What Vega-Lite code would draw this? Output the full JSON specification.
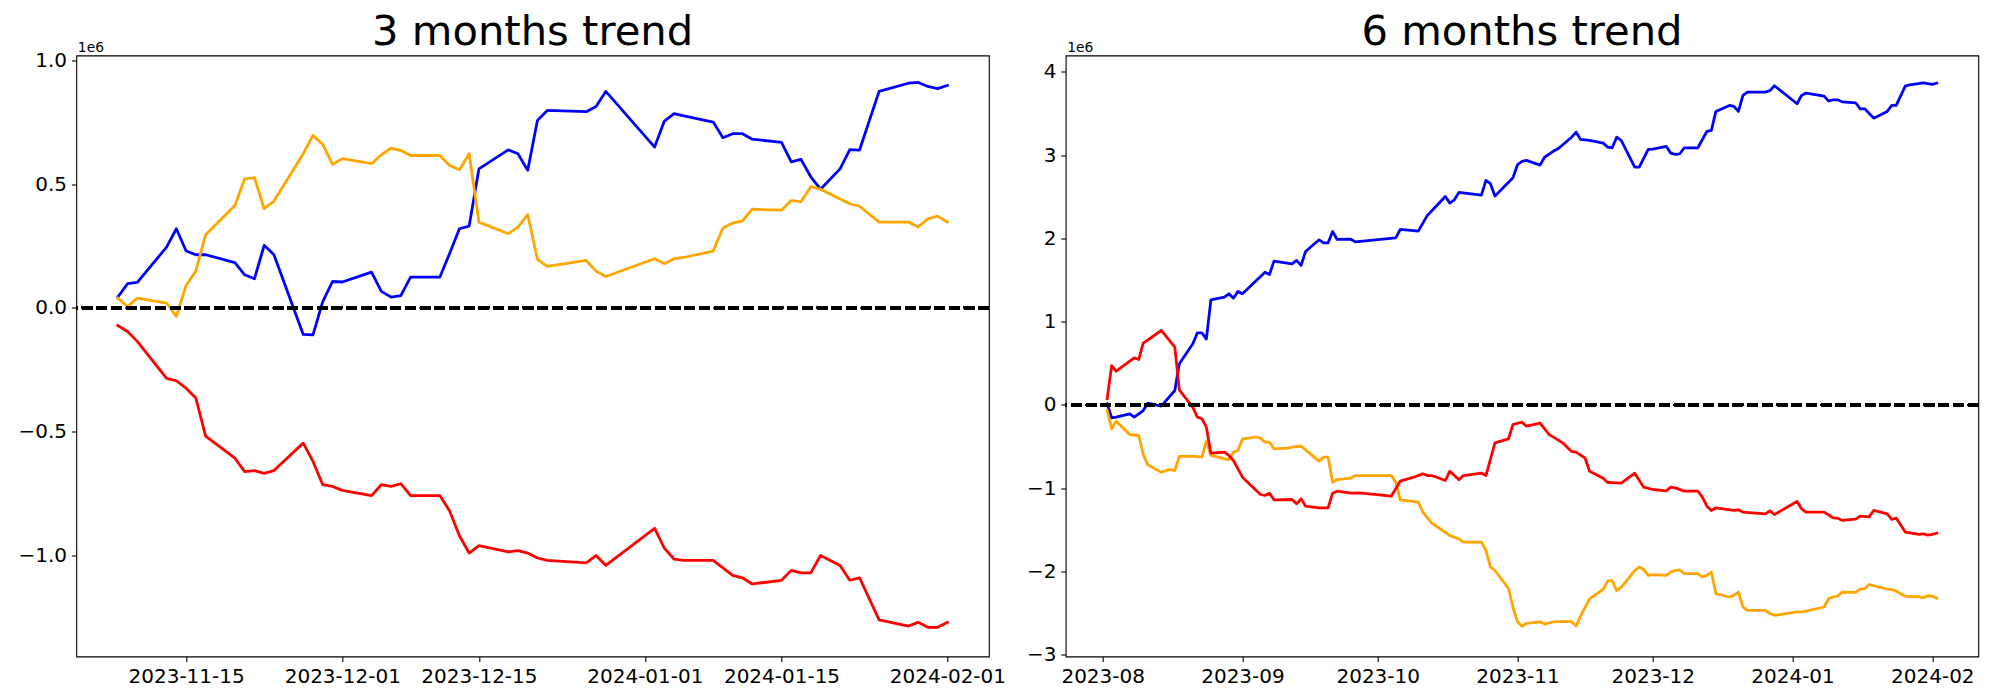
{
  "$schema": "https://vega.github.io/schema/vega-lite/v6.json",
  "background": "white",
  "padding": {"left": 17.3, "top": 11.5, "right": 5, "bottom": 5},
  "spacing": 76.4,
  "bounds": "flush",
  "datasets": {
    "three_months": [
      {"date":"2023-11-08","series":"s1","value":44000},{"date":"2023-11-09","series":"s1","value":98000},{"date":"2023-11-10","series":"s1","value":103000},{"date":"2023-11-13","series":"s1","value":246000},{"date":"2023-11-14","series":"s1","value":320000},{"date":"2023-11-15","series":"s1","value":230000},{"date":"2023-11-16","series":"s1","value":215000},{"date":"2023-11-17","series":"s1","value":215000},{"date":"2023-11-20","series":"s1","value":183000},{"date":"2023-11-21","series":"s1","value":134000},{"date":"2023-11-22","series":"s1","value":118000},{"date":"2023-11-23","series":"s1","value":253000},{"date":"2023-11-24","series":"s1","value":215000},{"date":"2023-11-27","series":"s1","value":-107000},{"date":"2023-11-28","series":"s1","value":-109000},{"date":"2023-11-29","series":"s1","value":26000},{"date":"2023-11-30","series":"s1","value":107000},{"date":"2023-12-01","series":"s1","value":105000},{"date":"2023-12-04","series":"s1","value":145000},{"date":"2023-12-05","series":"s1","value":67000},{"date":"2023-12-06","series":"s1","value":44000},{"date":"2023-12-07","series":"s1","value":50000},{"date":"2023-12-08","series":"s1","value":125000},{"date":"2023-12-11","series":"s1","value":125000},{"date":"2023-12-12","series":"s1","value":220000},{"date":"2023-12-13","series":"s1","value":320000},{"date":"2023-12-14","series":"s1","value":331000},{"date":"2023-12-15","series":"s1","value":562000},{"date":"2023-12-18","series":"s1","value":639000},{"date":"2023-12-19","series":"s1","value":623000},{"date":"2023-12-20","series":"s1","value":556000},{"date":"2023-12-21","series":"s1","value":758000},{"date":"2023-12-22","series":"s1","value":798000},{"date":"2023-12-26","series":"s1","value":793000},{"date":"2023-12-27","series":"s1","value":814000},{"date":"2023-12-28","series":"s1","value":875000},{"date":"2024-01-02","series":"s1","value":650000},{"date":"2024-01-03","series":"s1","value":755000},{"date":"2024-01-04","series":"s1","value":785000},{"date":"2024-01-05","series":"s1","value":776000},{"date":"2024-01-08","series":"s1","value":751000},{"date":"2024-01-09","series":"s1","value":688000},{"date":"2024-01-10","series":"s1","value":704000},{"date":"2024-01-11","series":"s1","value":704000},{"date":"2024-01-12","series":"s1","value":682000},{"date":"2024-01-15","series":"s1","value":669000},{"date":"2024-01-16","series":"s1","value":590000},{"date":"2024-01-17","series":"s1","value":600000},{"date":"2024-01-18","series":"s1","value":530000},{"date":"2024-01-19","series":"s1","value":480000},{"date":"2024-01-21","series":"s1","value":562000},{"date":"2024-01-22","series":"s1","value":640000},{"date":"2024-01-23","series":"s1","value":638000},{"date":"2024-01-25","series":"s1","value":875000},{"date":"2024-01-28","series":"s1","value":908000},{"date":"2024-01-29","series":"s1","value":911000},{"date":"2024-01-30","series":"s1","value":895000},{"date":"2024-01-31","series":"s1","value":886000},{"date":"2024-02-01","series":"s1","value":899000},
      {"date":"2023-11-08","series":"s2","value":40000},{"date":"2023-11-09","series":"s2","value":6000},{"date":"2023-11-10","series":"s2","value":40000},{"date":"2023-11-13","series":"s2","value":20000},{"date":"2023-11-14","series":"s2","value":-34000},{"date":"2023-11-15","series":"s2","value":91000},{"date":"2023-11-16","series":"s2","value":149000},{"date":"2023-11-17","series":"s2","value":296000},{"date":"2023-11-20","series":"s2","value":414000},{"date":"2023-11-21","series":"s2","value":522000},{"date":"2023-11-22","series":"s2","value":527000},{"date":"2023-11-23","series":"s2","value":401000},{"date":"2023-11-24","series":"s2","value":432000},{"date":"2023-11-27","series":"s2","value":623000},{"date":"2023-11-28","series":"s2","value":697000},{"date":"2023-11-29","series":"s2","value":661000},{"date":"2023-11-30","series":"s2","value":580000},{"date":"2023-12-01","series":"s2","value":603000},{"date":"2023-12-04","series":"s2","value":583000},{"date":"2023-12-05","series":"s2","value":619000},{"date":"2023-12-06","series":"s2","value":646000},{"date":"2023-12-07","series":"s2","value":636000},{"date":"2023-12-08","series":"s2","value":616000},{"date":"2023-12-11","series":"s2","value":616000},{"date":"2023-12-12","series":"s2","value":576000},{"date":"2023-12-13","series":"s2","value":558000},{"date":"2023-12-14","series":"s2","value":623000},{"date":"2023-12-15","series":"s2","value":347000},{"date":"2023-12-18","series":"s2","value":300000},{"date":"2023-12-19","series":"s2","value":327000},{"date":"2023-12-20","series":"s2","value":377000},{"date":"2023-12-21","series":"s2","value":196000},{"date":"2023-12-22","series":"s2","value":168000},{"date":"2023-12-26","series":"s2","value":192000},{"date":"2023-12-27","series":"s2","value":149000},{"date":"2023-12-28","series":"s2","value":127000},{"date":"2024-01-02","series":"s2","value":199000},{"date":"2024-01-03","series":"s2","value":179000},{"date":"2024-01-04","series":"s2","value":199000},{"date":"2024-01-05","series":"s2","value":204000},{"date":"2024-01-08","series":"s2","value":230000},{"date":"2024-01-09","series":"s2","value":323000},{"date":"2024-01-10","series":"s2","value":343000},{"date":"2024-01-11","series":"s2","value":352000},{"date":"2024-01-12","series":"s2","value":399000},{"date":"2024-01-15","series":"s2","value":395000},{"date":"2024-01-16","series":"s2","value":434000},{"date":"2024-01-17","series":"s2","value":430000},{"date":"2024-01-18","series":"s2","value":490000},{"date":"2024-01-19","series":"s2","value":480000},{"date":"2024-01-21","series":"s2","value":440000},{"date":"2024-01-22","series":"s2","value":421000},{"date":"2024-01-23","series":"s2","value":411000},{"date":"2024-01-25","series":"s2","value":347000},{"date":"2024-01-28","series":"s2","value":347000},{"date":"2024-01-29","series":"s2","value":327000},{"date":"2024-01-30","series":"s2","value":360000},{"date":"2024-01-31","series":"s2","value":371000},{"date":"2024-02-01","series":"s2","value":347000},
      {"date":"2023-11-08","series":"s3","value":-71000},{"date":"2023-11-09","series":"s3","value":-95000},{"date":"2023-11-10","series":"s3","value":-135000},{"date":"2023-11-13","series":"s3","value":-284000},{"date":"2023-11-14","series":"s3","value":-294000},{"date":"2023-11-15","series":"s3","value":-324000},{"date":"2023-11-16","series":"s3","value":-364000},{"date":"2023-11-17","series":"s3","value":-518000},{"date":"2023-11-20","series":"s3","value":-607000},{"date":"2023-11-21","series":"s3","value":-661000},{"date":"2023-11-22","series":"s3","value":-657000},{"date":"2023-11-23","series":"s3","value":-668000},{"date":"2023-11-24","series":"s3","value":-657000},{"date":"2023-11-27","series":"s3","value":-546000},{"date":"2023-11-28","series":"s3","value":-620000},{"date":"2023-11-29","series":"s3","value":-714000},{"date":"2023-11-30","series":"s3","value":-721000},{"date":"2023-12-01","series":"s3","value":-737000},{"date":"2023-12-04","series":"s3","value":-758000},{"date":"2023-12-05","series":"s3","value":-714000},{"date":"2023-12-06","series":"s3","value":-721000},{"date":"2023-12-07","series":"s3","value":-710000},{"date":"2023-12-08","series":"s3","value":-758000},{"date":"2023-12-11","series":"s3","value":-758000},{"date":"2023-12-12","series":"s3","value":-820000},{"date":"2023-12-13","series":"s3","value":-920000},{"date":"2023-12-14","series":"s3","value":-990000},{"date":"2023-12-15","series":"s3","value":-960000},{"date":"2023-12-18","series":"s3","value":-985000},{"date":"2023-12-19","series":"s3","value":-980000},{"date":"2023-12-20","series":"s3","value":-990000},{"date":"2023-12-21","series":"s3","value":-1010000},{"date":"2023-12-22","series":"s3","value":-1020000},{"date":"2023-12-26","series":"s3","value":-1030000},{"date":"2023-12-27","series":"s3","value":-1000000},{"date":"2023-12-28","series":"s3","value":-1040000},{"date":"2024-01-02","series":"s3","value":-890000},{"date":"2024-01-03","series":"s3","value":-970000},{"date":"2024-01-04","series":"s3","value":-1015000},{"date":"2024-01-05","series":"s3","value":-1020000},{"date":"2024-01-08","series":"s3","value":-1020000},{"date":"2024-01-09","series":"s3","value":-1050000},{"date":"2024-01-10","series":"s3","value":-1080000},{"date":"2024-01-11","series":"s3","value":-1090000},{"date":"2024-01-12","series":"s3","value":-1115000},{"date":"2024-01-15","series":"s3","value":-1100000},{"date":"2024-01-16","series":"s3","value":-1060000},{"date":"2024-01-17","series":"s3","value":-1070000},{"date":"2024-01-18","series":"s3","value":-1070000},{"date":"2024-01-19","series":"s3","value":-1000000},{"date":"2024-01-21","series":"s3","value":-1040000},{"date":"2024-01-22","series":"s3","value":-1100000},{"date":"2024-01-23","series":"s3","value":-1090000},{"date":"2024-01-25","series":"s3","value":-1260000},{"date":"2024-01-28","series":"s3","value":-1285000},{"date":"2024-01-29","series":"s3","value":-1270000},{"date":"2024-01-30","series":"s3","value":-1290000},{"date":"2024-01-31","series":"s3","value":-1290000},{"date":"2024-02-01","series":"s3","value":-1270000}
    ],
    "six_months": [
      {"date":"2023-08-02","series":"s1","value":12000},{"date":"2023-08-03","series":"s1","value":-157000},{"date":"2023-08-04","series":"s1","value":-149000},{"date":"2023-08-07","series":"s1","value":-108000},{"date":"2023-08-08","series":"s1","value":-149000},{"date":"2023-08-10","series":"s1","value":-69000},{"date":"2023-08-11","series":"s1","value":20000},{"date":"2023-08-14","series":"s1","value":-16000},{"date":"2023-08-17","series":"s1","value":172000},{"date":"2023-08-18","series":"s1","value":493000},{"date":"2023-08-21","series":"s1","value":733000},{"date":"2023-08-22","series":"s1","value":865000},{"date":"2023-08-23","series":"s1","value":865000},{"date":"2023-08-24","series":"s1","value":790000},{"date":"2023-08-25","series":"s1","value":1262000},{"date":"2023-08-28","series":"s1","value":1294000},{"date":"2023-08-29","series":"s1","value":1334000},{"date":"2023-08-30","series":"s1","value":1282000},{"date":"2023-08-31","series":"s1","value":1362000},{"date":"2023-09-01","series":"s1","value":1334000},{"date":"2023-09-06","series":"s1","value":1594000},{"date":"2023-09-07","series":"s1","value":1566000},{"date":"2023-09-08","series":"s1","value":1727000},{"date":"2023-09-12","series":"s1","value":1695000},{"date":"2023-09-13","series":"s1","value":1735000},{"date":"2023-09-14","series":"s1","value":1675000},{"date":"2023-09-15","series":"s1","value":1843000},{"date":"2023-09-18","series":"s1","value":1983000},{"date":"2023-09-19","series":"s1","value":1947000},{"date":"2023-09-20","series":"s1","value":1947000},{"date":"2023-09-21","series":"s1","value":2083000},{"date":"2023-09-22","series":"s1","value":1987000},{"date":"2023-09-25","series":"s1","value":1991000},{"date":"2023-09-26","series":"s1","value":1959000},{"date":"2023-10-05","series":"s1","value":2007000},{"date":"2023-10-06","series":"s1","value":2107000},{"date":"2023-10-10","series":"s1","value":2087000},{"date":"2023-10-12","series":"s1","value":2276000},{"date":"2023-10-16","series":"s1","value":2504000},{"date":"2023-10-17","series":"s1","value":2424000},{"date":"2023-10-18","series":"s1","value":2464000},{"date":"2023-10-19","series":"s1","value":2552000},{"date":"2023-10-24","series":"s1","value":2520000},{"date":"2023-10-25","series":"s1","value":2697000},{"date":"2023-10-26","series":"s1","value":2657000},{"date":"2023-10-27","series":"s1","value":2508000},{"date":"2023-10-31","series":"s1","value":2729000},{"date":"2023-11-01","series":"s1","value":2885000},{"date":"2023-11-02","series":"s1","value":2925000},{"date":"2023-11-03","series":"s1","value":2937000},{"date":"2023-11-06","series":"s1","value":2880000},{"date":"2023-11-07","series":"s1","value":2975000},{"date":"2023-11-09","series":"s1","value":3050000},{"date":"2023-11-10","series":"s1","value":3077000},{"date":"2023-11-13","series":"s1","value":3216000},{"date":"2023-11-14","series":"s1","value":3277000},{"date":"2023-11-15","series":"s1","value":3189000},{"date":"2023-11-17","series":"s1","value":3177000},{"date":"2023-11-20","series":"s1","value":3145000},{"date":"2023-11-21","series":"s1","value":3097000},{"date":"2023-11-22","series":"s1","value":3089000},{"date":"2023-11-23","series":"s1","value":3216000},{"date":"2023-11-24","series":"s1","value":3177000},{"date":"2023-11-27","series":"s1","value":2856000},{"date":"2023-11-28","series":"s1","value":2856000},{"date":"2023-11-30","series":"s1","value":3069000},{"date":"2023-12-01","series":"s1","value":3073000},{"date":"2023-12-04","series":"s1","value":3105000},{"date":"2023-12-05","series":"s1","value":3025000},{"date":"2023-12-06","series":"s1","value":3009000},{"date":"2023-12-07","series":"s1","value":3017000},{"date":"2023-12-08","series":"s1","value":3089000},{"date":"2023-12-11","series":"s1","value":3089000},{"date":"2023-12-13","series":"s1","value":3285000},{"date":"2023-12-14","series":"s1","value":3297000},{"date":"2023-12-15","series":"s1","value":3526000},{"date":"2023-12-18","series":"s1","value":3598000},{"date":"2023-12-19","series":"s1","value":3586000},{"date":"2023-12-20","series":"s1","value":3526000},{"date":"2023-12-21","series":"s1","value":3718000},{"date":"2023-12-22","series":"s1","value":3758000},{"date":"2023-12-26","series":"s1","value":3758000},{"date":"2023-12-27","series":"s1","value":3778000},{"date":"2023-12-28","series":"s1","value":3834000},{"date":"2024-01-02","series":"s1","value":3618000},{"date":"2024-01-03","series":"s1","value":3718000},{"date":"2024-01-04","series":"s1","value":3746000},{"date":"2024-01-08","series":"s1","value":3710000},{"date":"2024-01-09","series":"s1","value":3650000},{"date":"2024-01-10","series":"s1","value":3666000},{"date":"2024-01-11","series":"s1","value":3666000},{"date":"2024-01-12","series":"s1","value":3642000},{"date":"2024-01-15","series":"s1","value":3630000},{"date":"2024-01-16","series":"s1","value":3557000},{"date":"2024-01-17","series":"s1","value":3557000},{"date":"2024-01-19","series":"s1","value":3445000},{"date":"2024-01-22","series":"s1","value":3526000},{"date":"2024-01-23","series":"s1","value":3598000},{"date":"2024-01-24","series":"s1","value":3598000},{"date":"2024-01-26","series":"s1","value":3830000},{"date":"2024-01-27","series":"s1","value":3846000},{"date":"2024-01-30","series":"s1","value":3870000},{"date":"2024-02-01","series":"s1","value":3850000},{"date":"2024-02-02","series":"s1","value":3866000},
      {"date":"2023-08-02","series":"s2","value":-69000},{"date":"2023-08-03","series":"s2","value":-289000},{"date":"2023-08-04","series":"s2","value":-197000},{"date":"2023-08-07","series":"s2","value":-357000},{"date":"2023-08-09","series":"s2","value":-369000},{"date":"2023-08-10","series":"s2","value":-597000},{"date":"2023-08-11","series":"s2","value":-722000},{"date":"2023-08-14","series":"s2","value":-810000},{"date":"2023-08-16","series":"s2","value":-778000},{"date":"2023-08-17","series":"s2","value":-790000},{"date":"2023-08-18","series":"s2","value":-621000},{"date":"2023-08-21","series":"s2","value":-617000},{"date":"2023-08-23","series":"s2","value":-629000},{"date":"2023-08-24","series":"s2","value":-437000},{"date":"2023-08-25","series":"s2","value":-609000},{"date":"2023-08-29","series":"s2","value":-661000},{"date":"2023-08-30","series":"s2","value":-569000},{"date":"2023-08-31","series":"s2","value":-549000},{"date":"2023-09-01","series":"s2","value":-410000},{"date":"2023-09-04","series":"s2","value":-389000},{"date":"2023-09-05","series":"s2","value":-401000},{"date":"2023-09-06","series":"s2","value":-449000},{"date":"2023-09-07","series":"s2","value":-449000},{"date":"2023-09-08","series":"s2","value":-529000},{"date":"2023-09-11","series":"s2","value":-521000},{"date":"2023-09-13","series":"s2","value":-501000},{"date":"2023-09-14","series":"s2","value":-497000},{"date":"2023-09-18","series":"s2","value":-677000},{"date":"2023-09-19","series":"s2","value":-629000},{"date":"2023-09-20","series":"s2","value":-629000},{"date":"2023-09-21","series":"s2","value":-930000},{"date":"2023-09-22","series":"s2","value":-898000},{"date":"2023-09-25","series":"s2","value":-882000},{"date":"2023-09-26","series":"s2","value":-850000},{"date":"2023-10-04","series":"s2","value":-850000},{"date":"2023-10-05","series":"s2","value":-930000},{"date":"2023-10-06","series":"s2","value":-1142000},{"date":"2023-10-10","series":"s2","value":-1170000},{"date":"2023-10-11","series":"s2","value":-1290000},{"date":"2023-10-13","series":"s2","value":-1422000},{"date":"2023-10-17","series":"s2","value":-1571000},{"date":"2023-10-19","series":"s2","value":-1611000},{"date":"2023-10-20","series":"s2","value":-1651000},{"date":"2023-10-24","series":"s2","value":-1651000},{"date":"2023-10-25","series":"s2","value":-1750000},{"date":"2023-10-26","series":"s2","value":-1948000},{"date":"2023-10-27","series":"s2","value":-1991000},{"date":"2023-10-30","series":"s2","value":-2207000},{"date":"2023-10-31","series":"s2","value":-2436000},{"date":"2023-11-01","series":"s2","value":-2607000},{"date":"2023-11-02","series":"s2","value":-2661000},{"date":"2023-11-03","series":"s2","value":-2626000},{"date":"2023-11-06","series":"s2","value":-2608000},{"date":"2023-11-07","series":"s2","value":-2635000},{"date":"2023-11-09","series":"s2","value":-2610000},{"date":"2023-11-10","series":"s2","value":-2607000},{"date":"2023-11-13","series":"s2","value":-2606000},{"date":"2023-11-14","series":"s2","value":-2660000},{"date":"2023-11-15","series":"s2","value":-2537000},{"date":"2023-11-17","series":"s2","value":-2333000},{"date":"2023-11-20","series":"s2","value":-2219000},{"date":"2023-11-21","series":"s2","value":-2119000},{"date":"2023-11-22","series":"s2","value":-2112000},{"date":"2023-11-23","series":"s2","value":-2235000},{"date":"2023-11-24","series":"s2","value":-2193000},{"date":"2023-11-27","series":"s2","value":-1994000},{"date":"2023-11-28","series":"s2","value":-1950000},{"date":"2023-11-29","series":"s2","value":-1980000},{"date":"2023-11-30","series":"s2","value":-2050000},{"date":"2023-12-01","series":"s2","value":-2040000},{"date":"2023-12-04","series":"s2","value":-2050000},{"date":"2023-12-05","series":"s2","value":-2010000},{"date":"2023-12-06","series":"s2","value":-1990000},{"date":"2023-12-07","series":"s2","value":-1985000},{"date":"2023-12-08","series":"s2","value":-2030000},{"date":"2023-12-11","series":"s2","value":-2030000},{"date":"2023-12-12","series":"s2","value":-2070000},{"date":"2023-12-13","series":"s2","value":-2050000},{"date":"2023-12-14","series":"s2","value":-2010000},{"date":"2023-12-15","series":"s2","value":-2270000},{"date":"2023-12-18","series":"s2","value":-2310000},{"date":"2023-12-19","series":"s2","value":-2290000},{"date":"2023-12-20","series":"s2","value":-2250000},{"date":"2023-12-21","series":"s2","value":-2430000},{"date":"2023-12-22","series":"s2","value":-2470000},{"date":"2023-12-26","series":"s2","value":-2470000},{"date":"2023-12-27","series":"s2","value":-2510000},{"date":"2023-12-28","series":"s2","value":-2530000},{"date":"2024-01-02","series":"s2","value":-2490000},{"date":"2024-01-03","series":"s2","value":-2490000},{"date":"2024-01-04","series":"s2","value":-2480000},{"date":"2024-01-08","series":"s2","value":-2430000},{"date":"2024-01-09","series":"s2","value":-2330000},{"date":"2024-01-10","series":"s2","value":-2310000},{"date":"2024-01-11","series":"s2","value":-2300000},{"date":"2024-01-12","series":"s2","value":-2250000},{"date":"2024-01-15","series":"s2","value":-2255000},{"date":"2024-01-16","series":"s2","value":-2215000},{"date":"2024-01-17","series":"s2","value":-2210000},{"date":"2024-01-18","series":"s2","value":-2160000},{"date":"2024-01-19","series":"s2","value":-2175000},{"date":"2024-01-22","series":"s2","value":-2215000},{"date":"2024-01-23","series":"s2","value":-2220000},{"date":"2024-01-24","series":"s2","value":-2240000},{"date":"2024-01-26","series":"s2","value":-2300000},{"date":"2024-01-27","series":"s2","value":-2305000},{"date":"2024-01-29","series":"s2","value":-2305000},{"date":"2024-01-30","series":"s2","value":-2320000},{"date":"2024-01-31","series":"s2","value":-2295000},{"date":"2024-02-01","series":"s2","value":-2300000},{"date":"2024-02-02","series":"s2","value":-2325000},
      {"date":"2023-08-02","series":"s3","value":72000},{"date":"2023-08-03","series":"s3","value":472000},{"date":"2023-08-04","series":"s3","value":404000},{"date":"2023-08-08","series":"s3","value":565000},{"date":"2023-08-09","series":"s3","value":545000},{"date":"2023-08-10","series":"s3","value":741000},{"date":"2023-08-14","series":"s3","value":893000},{"date":"2023-08-17","series":"s3","value":693000},{"date":"2023-08-18","series":"s3","value":180000},{"date":"2023-08-21","series":"s3","value":-30000},{"date":"2023-08-22","series":"s3","value":-148000},{"date":"2023-08-23","series":"s3","value":-168000},{"date":"2023-08-24","series":"s3","value":-269000},{"date":"2023-08-25","series":"s3","value":-582000},{"date":"2023-08-28","series":"s3","value":-569000},{"date":"2023-08-29","series":"s3","value":-609000},{"date":"2023-08-30","series":"s3","value":-669000},{"date":"2023-09-01","series":"s3","value":-870000},{"date":"2023-09-05","series":"s3","value":-1078000},{"date":"2023-09-06","series":"s3","value":-1090000},{"date":"2023-09-07","series":"s3","value":-1062000},{"date":"2023-09-08","series":"s3","value":-1142000},{"date":"2023-09-12","series":"s3","value":-1138000},{"date":"2023-09-13","series":"s3","value":-1190000},{"date":"2023-09-14","series":"s3","value":-1130000},{"date":"2023-09-15","series":"s3","value":-1218000},{"date":"2023-09-18","series":"s3","value":-1238000},{"date":"2023-09-20","series":"s3","value":-1238000},{"date":"2023-09-21","series":"s3","value":-1062000},{"date":"2023-09-22","series":"s3","value":-1038000},{"date":"2023-09-25","series":"s3","value":-1062000},{"date":"2023-09-27","series":"s3","value":-1058000},{"date":"2023-10-04","series":"s3","value":-1098000},{"date":"2023-10-06","series":"s3","value":-918000},{"date":"2023-10-09","series":"s3","value":-870000},{"date":"2023-10-11","series":"s3","value":-830000},{"date":"2023-10-12","series":"s3","value":-850000},{"date":"2023-10-13","series":"s3","value":-850000},{"date":"2023-10-16","series":"s3","value":-910000},{"date":"2023-10-17","series":"s3","value":-798000},{"date":"2023-10-19","series":"s3","value":-902000},{"date":"2023-10-20","series":"s3","value":-850000},{"date":"2023-10-24","series":"s3","value":-822000},{"date":"2023-10-25","series":"s3","value":-850000},{"date":"2023-10-27","series":"s3","value":-458000},{"date":"2023-10-30","series":"s3","value":-410000},{"date":"2023-10-31","series":"s3","value":-237000},{"date":"2023-11-02","series":"s3","value":-209000},{"date":"2023-11-03","series":"s3","value":-257000},{"date":"2023-11-06","series":"s3","value":-219000},{"date":"2023-11-08","series":"s3","value":-357000},{"date":"2023-11-09","series":"s3","value":-389000},{"date":"2023-11-11","series":"s3","value":-457000},{"date":"2023-11-13","series":"s3","value":-561000},{"date":"2023-11-14","series":"s3","value":-569000},{"date":"2023-11-16","series":"s3","value":-642000},{"date":"2023-11-17","series":"s3","value":-798000},{"date":"2023-11-20","series":"s3","value":-882000},{"date":"2023-11-21","series":"s3","value":-934000},{"date":"2023-11-22","series":"s3","value":-934000},{"date":"2023-11-24","series":"s3","value":-942000},{"date":"2023-11-27","series":"s3","value":-822000},{"date":"2023-11-29","series":"s3","value":-990000},{"date":"2023-12-01","series":"s3","value":-1018000},{"date":"2023-12-04","series":"s3","value":-1034000},{"date":"2023-12-05","series":"s3","value":-990000},{"date":"2023-12-06","series":"s3","value":-998000},{"date":"2023-12-08","series":"s3","value":-1038000},{"date":"2023-12-11","series":"s3","value":-1038000},{"date":"2023-12-12","series":"s3","value":-1110000},{"date":"2023-12-13","series":"s3","value":-1218000},{"date":"2023-12-14","series":"s3","value":-1270000},{"date":"2023-12-15","series":"s3","value":-1238000},{"date":"2023-12-19","series":"s3","value":-1270000},{"date":"2023-12-20","series":"s3","value":-1262000},{"date":"2023-12-21","series":"s3","value":-1290000},{"date":"2023-12-26","series":"s3","value":-1310000},{"date":"2023-12-27","series":"s3","value":-1274000},{"date":"2023-12-28","series":"s3","value":-1318000},{"date":"2024-01-02","series":"s3","value":-1162000},{"date":"2024-01-03","series":"s3","value":-1250000},{"date":"2024-01-04","series":"s3","value":-1290000},{"date":"2024-01-08","series":"s3","value":-1290000},{"date":"2024-01-10","series":"s3","value":-1358000},{"date":"2024-01-11","series":"s3","value":-1362000},{"date":"2024-01-12","series":"s3","value":-1390000},{"date":"2024-01-15","series":"s3","value":-1374000},{"date":"2024-01-16","series":"s3","value":-1338000},{"date":"2024-01-18","series":"s3","value":-1346000},{"date":"2024-01-19","series":"s3","value":-1270000},{"date":"2024-01-22","series":"s3","value":-1310000},{"date":"2024-01-23","series":"s3","value":-1378000},{"date":"2024-01-24","series":"s3","value":-1362000},{"date":"2024-01-26","series":"s3","value":-1530000},{"date":"2024-01-29","series":"s3","value":-1558000},{"date":"2024-01-30","series":"s3","value":-1550000},{"date":"2024-01-31","series":"s3","value":-1566000},{"date":"2024-02-01","series":"s3","value":-1558000},{"date":"2024-02-02","series":"s3","value":-1542000}
    ]
  },
  "hconcat": [
    {
      "width": 912.6,
      "height": 601,
      "title": {"text": "3 months trend", "fontSize": 41.7, "fontWeight": "normal", "font": "DejaVu Sans", "color": "black", "anchor": "middle", "frame": "group", "baseline": "alphabetic", "offset": -46.9},
      "data": {"name": "three_months"},
      "layer": [
        {
          "mark": {"type": "line", "strokeWidth": 2.78, "strokeJoin": "round", "strokeCap": "square"},
          "encoding": {
            "x": {"field": "date", "type": "temporal",
              "scale": {"type": "utc", "nice": false, "domain": [{"year": 2023, "month": 11, "date": 3, "hours": 18, "utc": true}, {"year": 2024, "month": 2, "date": 5, "hours": 6, "utc": true}]},
              "axis": {"title": null, "values": [{"year": 2023, "month": 11, "date": 15, "utc": true}, {"year": 2023, "month": 12, "date": 1, "utc": true}, {"year": 2023, "month": 12, "date": 15, "utc": true}, {"year": 2024, "month": 1, "date": 1, "utc": true}, {"year": 2024, "month": 1, "date": 15, "utc": true}, {"year": 2024, "month": 2, "date": 1, "utc": true}], "labelExpr": "utcFormat(datum.value, '%Y-%m-%d')"}},
            "y": {"field": "value", "type": "quantitative",
              "scale": {"domain": [-1408000, 1020000], "nice": false, "zero": false},
              "axis": {"title": "1e6", "values": [-1000000, -500000, 0, 500000, 1000000], "labelExpr": "format(datum.value / 1000000, '.1f')", "titleAngle": 0, "titleX": 1, "titleY": -4.3, "titleAlign": "left", "titleBaseline": "alphabetic", "titleFontSize": 13.9, "titleFontWeight": "normal"}},
            "color": {"field": "series", "type": "nominal", "scale": {"domain": ["s1", "s2", "s3"], "range": ["#0000ff", "#ffa500", "#ff0000"]}, "legend": null}
          }
        },
        {
          "mark": {"type": "rule", "color": "black", "strokeWidth": 2.78, "strokeDash": [10.3, 4.4]},
          "encoding": {"y": {"datum": 0}}
        }
      ]
    },
    {
      "width": 912.6,
      "height": 601,
      "title": {"text": "6 months trend", "fontSize": 41.7, "fontWeight": "normal", "font": "DejaVu Sans", "color": "black", "anchor": "middle", "frame": "group", "baseline": "alphabetic", "offset": -46.9},
      "data": {"name": "six_months"},
      "layer": [
        {
          "mark": {"type": "line", "strokeWidth": 2.78, "strokeJoin": "round", "strokeCap": "square"},
          "encoding": {
            "x": {"field": "date", "type": "temporal",
              "scale": {"type": "utc", "nice": false, "domain": [{"year": 2023, "month": 7, "date": 23, "hours": 19, "minutes": 12, "utc": true}, {"year": 2024, "month": 2, "date": 11, "hours": 4, "minutes": 48, "utc": true}]},
              "axis": {"title": null, "values": [{"year": 2023, "month": 8, "date": 1, "utc": true}, {"year": 2023, "month": 9, "date": 1, "utc": true}, {"year": 2023, "month": 10, "date": 1, "utc": true}, {"year": 2023, "month": 11, "date": 1, "utc": true}, {"year": 2023, "month": 12, "date": 1, "utc": true}, {"year": 2024, "month": 1, "date": 1, "utc": true}, {"year": 2024, "month": 2, "date": 1, "utc": true}], "labelExpr": "utcFormat(datum.value, '%Y-%m')"}},
            "y": {"field": "value", "type": "quantitative",
              "scale": {"domain": [-3025000, 4198000], "nice": false, "zero": false},
              "axis": {"title": "1e6", "values": [-3000000, -2000000, -1000000, 0, 1000000, 2000000, 3000000, 4000000], "labelExpr": "format(datum.value / 1000000, 'd')", "titleAngle": 0, "titleX": 1, "titleY": -4.3, "titleAlign": "left", "titleBaseline": "alphabetic", "titleFontSize": 13.9, "titleFontWeight": "normal"}},
            "color": {"field": "series", "type": "nominal", "scale": {"domain": ["s1", "s2", "s3"], "range": ["#0000ff", "#ffa500", "#ff0000"]}, "legend": null}
          }
        },
        {
          "mark": {"type": "rule", "color": "black", "strokeWidth": 2.78, "strokeDash": [10.3, 4.4]},
          "encoding": {"y": {"datum": 0}}
        }
      ]
    }
  ],
  "resolve": {"scale": {"color": "shared"}},
  "config": {
    "font": "DejaVu Sans",
    "view": {"stroke": "black", "strokeWidth": 1.1},
    "axis": {"grid": false, "domain": false, "ticks": true, "tickColor": "black", "tickSize": 4.9, "tickWidth": 1.1, "labelColor": "black", "labelFont": "DejaVu Sans", "labelFontSize": 20, "labelPadding": 4.9, "labelFlush": false, "labelOverlap": false, "labelBound": false, "titleFont": "DejaVu Sans", "titleColor": "black"}
  }
}
